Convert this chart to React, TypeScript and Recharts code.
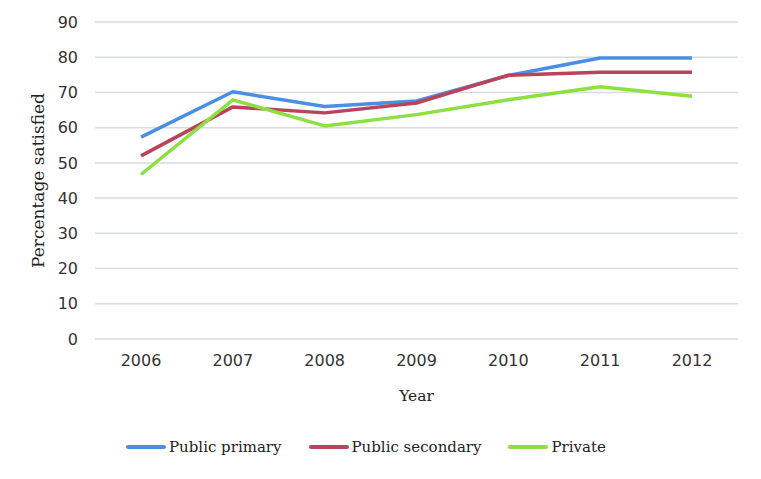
import React from 'react';
import { LineChart, Line, XAxis, YAxis, CartesianGrid, Legend } from 'recharts';

const YEARS = ['2006', '2007', '2008', '2009', '2010', '2011', '2012'];
const PUBLIC_PRIMARY = [57.3, 70.2, 66, 67.6, 74.8, 79.8, 79.8];
const PUBLIC_SECONDARY = [52, 65.9, 64.2, 67, 74.9, 75.7, 75.7];
const PRIVATE = [46.7, 67.9, 60.5, 63.7, 67.9, 71.6, 68.9];
const Y_TICKS = [0, 10, 20, 30, 40, 50, 60, 70, 80, 90];

const SERIES = [
  { key: 'primary', name: 'Public primary', color: '#4a8fe3' },
  { key: 'secondary', name: 'Public secondary', color: '#bb4259' },
  { key: 'private', name: 'Private', color: '#8ce040' },
];

const data = YEARS.map((year, i) => ({
  year,
  primary: PUBLIC_PRIMARY[i],
  secondary: PUBLIC_SECONDARY[i],
  private: PRIVATE[i],
}));

const serif = '"DejaVu Serif", "Liberation Serif", serif';
const sans = '"DejaVu Sans", Verdana, sans-serif';

const LegendContent = () => (
  <div style={{ display: 'flex', paddingLeft: 126, gap: 27, fontFamily: serif, fontSize: 15, color: '#222' }}>
    {SERIES.map(s => (
      <div key={s.key} style={{ display: 'flex', alignItems: 'center' }}>
        <div style={{ width: 40, height: 4, borderRadius: 2, background: s.color, marginRight: 3 }} />
        <span>{s.name}</span>
      </div>
    ))}
  </div>
);

export default function App() {
  return (
    <div style={{ position: 'absolute', left: 0, top: 0, width: 761, height: 479, background: '#fff' }}>
      <LineChart width={761} height={479} data={data} margin={{ top: 22, right: 23, left: 0, bottom: 52 }}>
        <CartesianGrid vertical={false} stroke="#d9dcdc" strokeWidth={1.5} />
        <XAxis
          dataKey="year"
          axisLine={false}
          tickLine={false}
          tickSize={0}
          tickMargin={16}
          height={70}
          padding={{ left: 46, right: 46 }}
          tick={{ fill: '#333', fontSize: 16, fontFamily: sans }}
          label={{ value: 'Year', position: 'insideBottom', offset: 8, fill: '#222', fontSize: 15.5, fontFamily: serif }}
        />
        <YAxis
          domain={[0, 90]}
          ticks={Y_TICKS}
          axisLine={false}
          tickLine={false}
          tickSize={0}
          tickMargin={17}
          width={95}
          tick={{ fill: '#333', fontSize: 16, fontFamily: sans }}
          label={{ value: 'Percentage  satisfied', angle: -90, position: 'insideLeft', offset: 38, fill: '#222', fontSize: 17, fontFamily: serif, style: { textAnchor: 'middle', whiteSpace: 'pre' } }}
        />
        <Legend content={<LegendContent />} wrapperStyle={{ top: 438, left: 0, width: 761 }} />
        {SERIES.map(s => (
          <Line
            key={s.key}
            dataKey={s.key}
            name={s.name}
            stroke={s.color}
            strokeWidth={3.5}
            dot={false}
            isAnimationActive={false}
            strokeLinejoin="round"
          />
        ))}
      </LineChart>
    </div>
  );
}
